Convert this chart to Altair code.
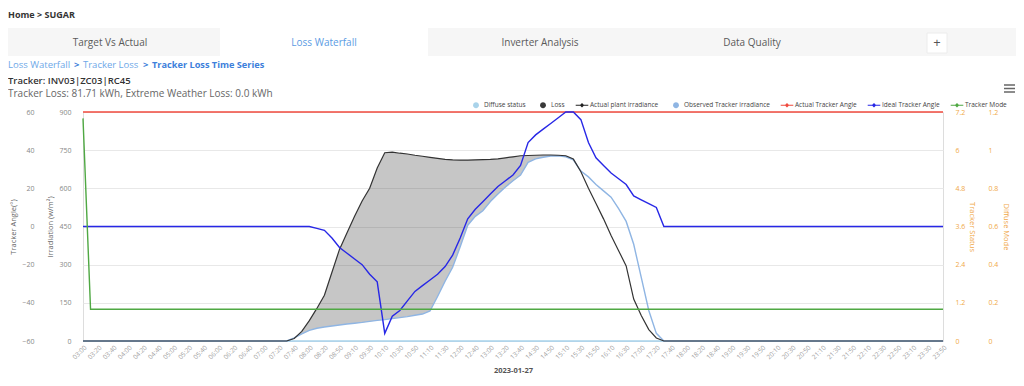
import altair as alt
import pandas as pd

# ---------------- data ----------------
labels = ["03:00", "03:20", "03:40", "04:00", "04:20", "04:40", "05:00", "05:20", "05:40",
          "06:00", "06:20", "06:40", "07:00", "07:20", "07:40", "08:00", "08:20", "08:50",
          "09:10", "09:30", "10:10", "10:30", "10:50", "11:10", "11:30", "12:00", "12:40",
          "13:00", "13:20", "13:40", "14:30", "14:50", "15:10", "15:30", "15:50", "16:10",
          "16:30", "17:00", "17:20", "17:40", "18:00", "18:20", "18:40", "19:00", "19:30",
          "19:50", "20:10", "20:30", "20:50", "21:10", "21:30", "21:50", "22:10", "22:30",
          "22:50", "23:10", "23:30", "23:50"]

actual_irr = [0] * 28 + [
    10, 38, 80, 128, 180, 270, 360, 425, 490, 550,
    600, 680, 740, 742, 738, 735, 730, 726, 722, 718,
    714, 712, 711, 711, 712, 713, 714, 716, 720, 724,
    728, 729, 730, 731, 731, 730, 728, 715, 665, 600,
    540, 480, 415, 355, 295, 165, 100, 45, 12, 0] + [0] * 37

observed_irr = [0] * 28 + [
    12, 28, 42, 50, 55, 59, 63, 67, 70, 73,
    77, 81, 84, 88, 92, 96, 101, 106, 118, 175,
    235, 290, 370, 455, 490, 512, 548, 578, 605, 630,
    652, 702, 716, 722, 727, 728, 724, 712, 668, 645,
    615, 590, 565, 520, 470, 380, 250, 120, 30, 0] + [0] * 37

ideal_angle = [0] * 31 + [
    -1, -2, -6, -11, -14, -17, -20, -25, -29,
    -56, -47, -44, -39, -34, -31, -28, -25, -21, -15,
    -6, 4, 9, 13, 17, 21, 24, 27, 32, 44,
    48, 51, 54, 57, 60, 60, 56, 44, 36, 32,
    28, 25, 22, 16, 14, 12, 10, 0] + [0] * 37

actual_angle = [60] * 115
tracker_mode = [7] + [1] * 114
diffuse_status = [0] * 115

series_names = ["Diffuse status", "Loss", "Actual plant irradiance",
                "Observed Tracker irradiance", "Actual Tracker Angle",
                "Ideal Tracker Angle", "Tracker Mode"]
series_colors = ["#a9d3ea", "#3a3a3a", "#222222", "#8fb5e3", "#f04a3e", "#2727e6", "#4fa843"]

# ---------------- category positions (label + midpoint between labels) ----------------
def tmin(s):
    h, m = s.split(":")
    return int(h) * 60 + int(m)

def fmt(m):
    return f"{m // 60:02d}:{m % 60:02d}"

times = []
for a, b in zip(labels[:-1], labels[1:]):
    times.append(a)
    times.append(fmt((tmin(a) + tmin(b)) // 2))
times.append(labels[-1])

df = pd.DataFrame({
    "t": times,
    "actual": actual_irr,
    "observed": observed_irr,
    "ideal": ideal_angle,
    "actual_angle": actual_angle,
    "mode": tracker_mode,
    "diffuse": diffuse_status,
})

FONT = "Open Sans"
ORANGE = "#f0a848"
base = alt.Chart(df)

xscale = alt.Scale(type="point", padding=0, domain=times)
x_axis = alt.Axis(values=labels, labelAngle=315, labelFontSize=6.5, labelColor="#a0a0a0",
                  labelPadding=3, labelOverlap=False, ticks=False, tickSize=0,
                  domainColor="#ccd6eb", title="2023-01-27", titleFontSize=7.5,
                  titleFontWeight="bold", titleColor="#555", titlePadding=6,
                  labelFont=FONT, titleFont=FONT, grid=False)
X = alt.X("t:O", sort=None, scale=xscale, axis=x_axis)

# ---------------- irradiation (left inner axis) ----------------
irr_scale = alt.Scale(domain=[0, 900], nice=False)
irr_axis = alt.Axis(orient="left", values=[0, 150, 300, 450, 600, 750, 900], grid=True,
                    gridColor="#e8e8e8", domain=False, ticks=False, tickSize=0, labelPadding=12,
                    labelFontSize=7, labelColor="#888", title="Irradiation (w/m²)", titleFontSize=7.5,
                    titleColor="#666", titleFontWeight="normal", titlePadding=4, format="d",
                    labelFont=FONT, titleFont=FONT)

loss = base.transform_calculate(upper="max(datum.actual, datum.observed)").mark_area(
    color="#3c3c3c", opacity=0.29).encode(
    x=X, y=alt.Y("observed:Q", scale=irr_scale, axis=irr_axis, title="Irradiation (w/m²)"),
    y2="upper:Q")
obs = base.mark_line(color="#8fb5e3", strokeWidth=1.4).encode(
    x=X, y=alt.Y("observed:Q", scale=irr_scale, axis=irr_axis, title="Irradiation (w/m²)"))
act = base.mark_line(color="#333333", strokeWidth=1.2).encode(
    x=X, y=alt.Y("actual:Q", scale=irr_scale, axis=irr_axis, title="Irradiation (w/m²)"))
irr_layer = alt.layer(loss, obs, act)

# ---------------- tracker angle (left outer axis) ----------------
ang_scale = alt.Scale(domain=[-60, 60], nice=False)
ang_axis = alt.Axis(orient="left", offset=37, values=[-60, -40, -20, 0, 20, 40, 60], grid=False,
                    domain=False, ticks=False, tickSize=0, labelPadding=12, labelFontSize=7,
                    labelColor="#888", title="Tracker Angle(°)", titleFontSize=7.5, titleColor="#666",
                    titleFontWeight="normal", titlePadding=4, labelFont=FONT, titleFont=FONT)
red = base.mark_line(color="#f04a3e", strokeWidth=1.4).encode(
    x=X, y=alt.Y("actual_angle:Q", scale=ang_scale, axis=ang_axis, title="Tracker Angle(°)"))
blue = base.mark_line(color="#2727e6", strokeWidth=1.4).encode(
    x=X, y=alt.Y("ideal:Q", scale=ang_scale, axis=ang_axis, title="Tracker Angle(°)"))
ang_layer = alt.layer(red, blue)

# ---------------- tracker status (right inner axis) ----------------
status = base.mark_line(color="#4fa843", strokeWidth=1.4).encode(
    x=X, y=alt.Y("mode:Q", scale=alt.Scale(domain=[0, 7.2], nice=False),
                 axis=alt.Axis(orient="right", values=[0, 1.2, 2.4, 3.6, 4.8, 6, 7.2], format=".1~f",
                               grid=False, domain=False, ticks=False, tickSize=0, labelPadding=12,
                               labelFontSize=7, labelColor=ORANGE, title="Tracker Status",
                               titleFontSize=7.5, titleColor=ORANGE, titleFontWeight="normal",
                               titlePadding=3, labelFont=FONT, titleFont=FONT)))

# ---------------- diffuse mode (right outer axis) ----------------
diffuse = base.mark_line(color="#a9d3ea", strokeWidth=1.4).encode(
    x=X, y=alt.Y("diffuse:Q", scale=alt.Scale(domain=[0, 1.2], nice=False),
                 axis=alt.Axis(orient="right", offset=33, values=[0, 0.2, 0.4, 0.6, 0.8, 1, 1.2],
                               format=".1~f", grid=False, domain=False, ticks=False, tickSize=0,
                               labelPadding=12, labelFontSize=7, labelColor=ORANGE,
                               title="Diffuse Mode", titleFontSize=7.5, titleColor=ORANGE,
                               titleFontWeight="normal", titlePadding=4, labelFont=FONT,
                               titleFont=FONT)))

# ---------------- legend ----------------
dot = "M-0.42,0A0.42,0.42,0,1,1,0.42,0A0.42,0.42,0,1,1,-0.42,0Z"
linemark = "M-0.9,-0.08L0.9,-0.08L0.9,0.08L-0.9,0.08Z M0,-0.32L0.32,0L0,0.32L-0.32,0Z"
shapes = [dot, dot, linemark, dot, linemark, linemark, linemark]
leg = alt.Legend(orient="none", legendX=386, legendY=-14, direction="horizontal", columns=7,
                 title=None, labelFontSize=6.5, labelFont=FONT, labelColor="#444", symbolSize=196,
                 symbolStrokeWidth=0, labelOffset=1, columnPadding=10, padding=0, symbolOpacity=1,
                 labelLimit=300)
legend_layer = alt.Chart(pd.DataFrame({"series": series_names})).mark_point(
    filled=True, opacity=0).encode(
    color=alt.Color("series:N", sort=series_names,
                    scale=alt.Scale(domain=series_names, range=series_colors), legend=leg),
    shape=alt.Shape("series:N", sort=series_names,
                    scale=alt.Scale(domain=series_names, range=shapes), legend=leg))

# ---------------- page decoration ----------------
one = pd.DataFrame({"k": [0]})

def txt(s, x, y, size=9, color="#333", weight="normal", align="left"):
    return alt.Chart(one).mark_text(text=s, fontSize=size, color=color, fontWeight=weight,
                                    align=align, baseline="middle", font=FONT).encode(
        x=alt.value(x), y=alt.value(y))

def box(x1, x2, y1, y2, fill, stroke=None):
    kw = dict(color=fill)
    if stroke:
        kw.update(stroke=stroke, strokeWidth=1)
    return alt.Chart(one).mark_rect(**kw).encode(
        x=alt.value(x1), x2=alt.value(x2), y=alt.value(y1), y2=alt.value(y2))

def hline(x1, x2, y, color="#666", w=1.5):
    return alt.Chart(one).mark_rule(color=color, strokeWidth=w).encode(
        x=alt.value(x1), x2=alt.value(x2), y=alt.value(y))

deco = [
    box(-75, 933, -84, -56, "#f6f6f6"),
    box(137, 345, -84, -56, "#ffffff"),
    box(844, 864, -79, -59, "#ffffff", "#ececec"),
    txt("Home > SUGAR", -75, -97.5, 9, "#333", "bold"),
    txt("Target Vs Actual", 27, -69, 10, "#5a5a5a", align="center"),
    txt("Loss Waterfall", 241, -69, 10, "#5b9be3", align="center"),
    txt("Inverter Analysis", 457, -69, 10, "#5a5a5a", align="center"),
    txt("Data Quality", 669, -69, 10, "#5a5a5a", align="center"),
    txt("+", 854, -69, 13, "#555", align="center"),
    txt("Loss Waterfall", -75, -47, 9.5, "#6ea8e8"),
    txt(">", -9, -47, 9.5, "#3d80db", "bold"),
    txt("Tracker Loss", 0, -47, 9.5, "#6ea8e8"),
    txt(">", 60, -47, 9.5, "#3d80db", "bold"),
    txt("Tracker Loss Time Series", 69, -47, 9.2, "#3d80db", "bold"),
    txt("Tracker: INV03|ZC03|RC45", -75, -31, 9.5, "#333", 600),
    txt("Tracker Loss: 81.71 kWh, Extreme Weather Loss: 0.0 kWh", -75, -18, 10, "#666"),
    hline(921, 932, -27),
    hline(921, 932, -23.5),
    hline(921, 932, -20),
]

chart = alt.layer(
    *deco, diffuse, irr_layer, ang_layer, status, legend_layer
).resolve_scale(y="independent").properties(
    width=860, height=229,
    padding={"left": 75, "top": 104, "right": 73, "bottom": 33},
    autosize=alt.AutoSizeParams(type="none"),
).configure_view(stroke=None).configure(font=FONT)

chart.save("out.html", embed_options={"renderer": "svg", "actions": False})
